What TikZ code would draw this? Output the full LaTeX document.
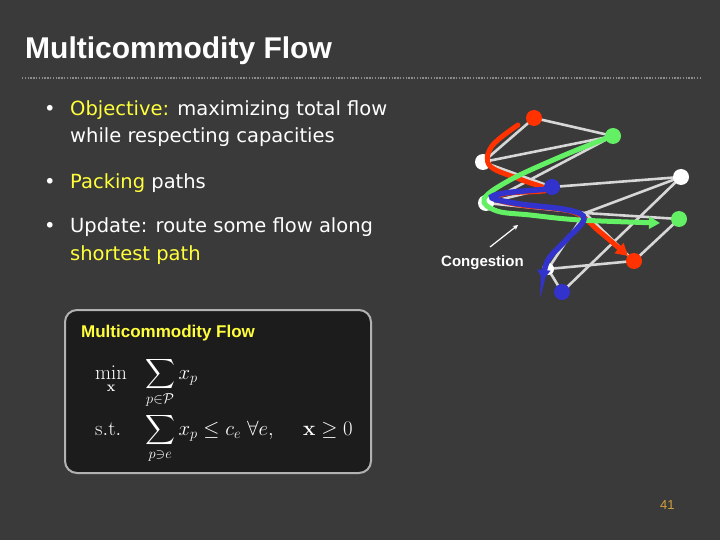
\documentclass[tikz,border=0pt]{standalone}
\usepackage{amsmath}
\usepackage{exscale}
\usepackage[no-math]{fontspec}
\newfontfamily\bodyfont{DejaVu Sans}
\newfontfamily\titlefont{Liberation Sans}
\usetikzlibrary{arrows.meta}
\definecolor{bg}{RGB}{58,58,58}
\definecolor{boxbg}{RGB}{28,28,28}
\definecolor{hl}{RGB}{255,255,60}
\definecolor{edgegray}{RGB}{215,215,215}
\definecolor{cred}{RGB}{255,50,0}
\definecolor{cgreen}{RGB}{100,240,100}
\definecolor{cblue}{RGB}{50,50,205}
\definecolor{pagenum}{RGB}{210,160,60}
\tikzset{
  txt/.style={anchor=base west, inner sep=0pt, text=white},
  body/.style={txt, font=\bodyfont\fontsize{19.5}{24}\selectfont},
  gedge/.style={draw=edgegray, line width=2.6pt},
  gnode/.style={circle, inner sep=0pt, minimum size=16pt},
  wnode/.style={gnode, fill=white},
  rnode/.style={gnode, fill=cred},
  bnode/.style={gnode, fill=cblue},
  grnode/.style={gnode, fill=cgreen},
  flowpath/.style={line width=5pt, line cap=round},
  math/.style={txt, font=\fontsize{20}{24}\selectfont},
}
\begin{document}
\begin{tikzpicture}[x=1pt,y=-1pt]
\fill[bg] (0,0) rectangle (720,540);
\useasboundingbox (0,0) rectangle (720,540);
% title
\node[txt, font=\titlefont\bfseries\fontsize{30}{36}\selectfont] (title) at (25,59) {Multicommodity Flow};
\draw[draw=gray!90, line width=1.2pt, dash pattern=on 1.4pt off 1.4pt] (22,78) -- (700,78);
% bullets
\node[body] (b1) at (44,116) {•};
\node[body] (l1) at (70,116) {\textcolor{hl}{Objective:} maximizing total flow};
\node[body] (l2) at (70,143) {while respecting capacities};
\node[body] (b2) at (44,189) {•};
\node[body] (l3) at (70,189) {\textcolor{hl}{Packing} paths};
\node[body] (b3) at (44,233) {•};
\node[body] (l4) at (70,233) {Update: route some flow along};
\node[body] (l5) at (70,260) {\textcolor{hl}{shortest path}};
% graph
\coordinate (A) at (534,118);
\coordinate (B) at (613,136);
\coordinate (C) at (483,162);
\coordinate (D) at (552,187);
\coordinate (E) at (681,177);
\coordinate (F) at (486,203);
\coordinate (G) at (679,219);
\coordinate (H) at (634,261);
\coordinate (I) at (548,269);
\coordinate (J) at (562,292);
\coordinate (K) at (585,213);
\foreach \u/\v in {A/B, A/C, C/B, B/F, C/D, D/F, D/E, E/K, E/J, F/K, K/G, K/H, K/I, G/H, H/I, I/J}
  \draw[gedge] (\u) -- (\v);
\node[wnode] (nC) at (C) {};
\node[wnode] (nF) at (F) {};
\node[wnode] (nE) at (E) {};
\node[wnode, minimum size=12pt] (nI) at (I) {};
% flows
\draw[flowpath, draw=cred, -{Triangle[length=12pt,width=13pt]}]
  plot[smooth, tension=0.6] coordinates {(518,125) (492,146) (490,166) (522,180) (547,190) (510,193) (493,198) (520,205) (573,212) (600,232) (628,256)};
\draw[flowpath, draw=cgreen, -{Triangle[length=11pt,width=12pt]}]
  plot[smooth, tension=0.6] coordinates {(607,138) (560,157) (510,180) (484,199) (497,211) (530,215) (580,220) (660,223)};
\draw[flowpath, line width=5.5pt, draw=cblue, -{Triangle[length=10pt,width=13pt]}]
  plot[smooth, tension=0.6] coordinates {(550,189) (505,193) (492,198) (520,204) (568,210) (584,219) (566,240) (548,260) (543,280)};
\node[rnode] (nA) at (A) {};
\node[grnode] (nB) at (B) {};
\node[bnode] (nD) at (D) {};
\node[grnode] (nG) at (G) {};
\node[rnode] (nH) at (H) {};
\node[bnode] (nJ) at (J) {};
% congestion
\node[txt, font=\titlefont\bfseries\fontsize{15}{18}\selectfont] (cong) at (441,266) {Congestion};
\coordinate (congtip) at (518,225);
\draw[white, line width=1.2pt, -{Stealth[length=5pt,width=5pt]}] (490,247) -- (congtip);
% box
\draw[draw=gray!60!white, fill=boxbg, line width=2pt, rounded corners=12pt] (65,310) rectangle (371,473);
\node[txt, text=hl, font=\titlefont\bfseries\fontsize{17}{20}\selectfont] (boxtitle) at (81,337) {Multicommodity Flow};
\node[math] (mn) at (95,379) {$\displaystyle\min_{\mathbf{x}}$};
\node[math] (s1) at (145,379) {$\displaystyle\sum_{p\in\mathcal{P}} x_p$};
\node[math] (st) at (95,435) {$\mathrm{s.t.}$};
\node[math] (s2) at (145,435) {$\displaystyle\sum_{p\ni e} x_p \le c_e\ \forall e,$};
\node[math] (xg) at (303,435) {$\mathbf{x}\ge 0$};
% page number
\node[txt, text=pagenum, font=\titlefont\fontsize{13}{15}\selectfont] (pg) at (660,509) {41};
\end{tikzpicture}
\end{document}
